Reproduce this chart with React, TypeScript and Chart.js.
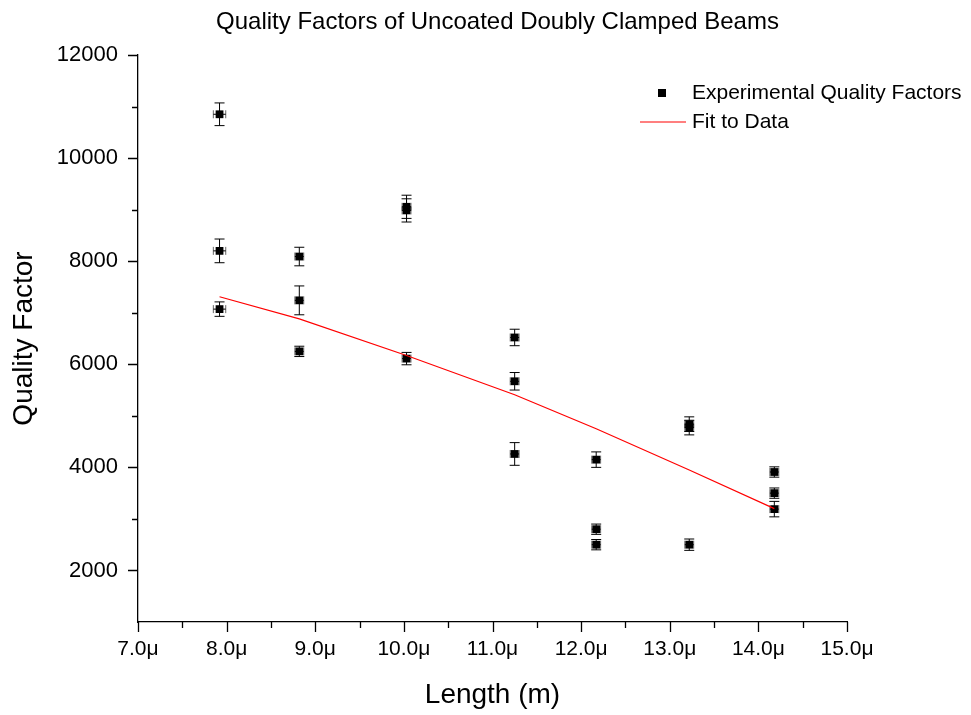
import React, { useEffect, useRef } from "react";
import { Chart, registerables } from "chart.js";

Chart.register(...registerables);

// ---- data (lengths in micrometres) ----
const lengthsUm = [
  7.92, 7.92, 7.92,
  8.82, 8.82, 8.82,
  10.03, 10.03, 10.03,
  11.25, 11.25, 11.25,
  12.17, 12.17, 12.17,
  13.22, 13.22, 13.22,
  14.18, 14.18, 14.18,
];
const qualityFactors = [
  10850, 8200, 7070,
  8090, 7240, 6250,
  9055, 8985, 6110,
  6520, 5670, 4260,
  4150, 2800, 2500,
  4838, 4772, 2500,
  3910, 3500, 3190,
];
const qualityErrors = [
  220, 230, 140,
  180, 280, 100,
  225, 225, 120,
  160, 170, 220,
  150, 100, 100,
  142, 142, 110,
  100, 100, 150,
];
const lengthErrorsUm = [
  0.07, 0.07, 0.07,
  0.05, 0.05, 0.05,
  0.05, 0.05, 0.05,
  0.05, 0.05, 0.05,
  0.05, 0.05, 0.05,
  0.05, 0.05, 0.05,
  0.05, 0.05, 0.05,
];
const fitLengthsUm = [7.92, 8.82, 10.03, 11.25, 12.17, 13.22, 14.18];
const fitQuality = [7310, 6880, 6170, 5410, 4750, 3950, 3200];

const xTickValues = [7, 8, 9, 10, 11, 12, 13, 14, 15];
const xMinorTickValues = [7.5, 8.5, 9.5, 10.5, 11.5, 12.5, 13.5, 14.5];
const yTickValues = [2000, 4000, 6000, 8000, 10000, 12000];
const yMinorTickValues = [3000, 5000, 7000, 9000, 11000];

const seriesLabel = "Experimental Quality Factors";
const fitLabel = "Fit to Data";
const chartTitle = "Quality Factors of Uncoated Doubly Clamped Beams";
const xTitle = "Length (m)";
const yTitle = "Quality Factor";

const FONT = "'Liberation Sans', Arial, sans-serif";

const errorBarPlugin = {
  id: "errorBars",
  beforeDatasetsDraw(chart: any) {
    const { ctx, scales } = chart;
    const xs = scales.x;
    const ys = scales.y;
    ctx.save();
    ctx.lineWidth = 1;
    const cap = 5;
    for (let i = 0; i < lengthsUm.length; i++) {
      const px = xs.getPixelForValue(lengthsUm[i]);
      const py = ys.getPixelForValue(qualityFactors[i]);
      const yTop = ys.getPixelForValue(qualityFactors[i] + qualityErrors[i]);
      const yBot = ys.getPixelForValue(qualityFactors[i] - qualityErrors[i]);
      const xL = xs.getPixelForValue(lengthsUm[i] - lengthErrorsUm[i]);
      const xR = xs.getPixelForValue(lengthsUm[i] + lengthErrorsUm[i]);
      ctx.strokeStyle = "#000";
      ctx.beginPath();
      ctx.moveTo(px, yTop);
      ctx.lineTo(px, yBot);
      ctx.moveTo(px - cap, yTop);
      ctx.lineTo(px + cap, yTop);
      ctx.moveTo(px - cap, yBot);
      ctx.lineTo(px + cap, yBot);
      ctx.moveTo(xL, py);
      ctx.lineTo(xR, py);
      ctx.stroke();
      ctx.beginPath();
      ctx.strokeStyle = "rgba(0,0,0,0.6)";
      ctx.moveTo(xL, py - 4);
      ctx.lineTo(xL, py + 4);
      ctx.moveTo(xR, py - 4);
      ctx.lineTo(xR, py + 4);
      ctx.stroke();
    }
    ctx.restore();
  },
};

const tickPlugin = {
  id: "axisTicks",
  afterDraw(chart: any) {
    const { ctx, scales, chartArea } = chart;
    const xs = scales.x;
    const ys = scales.y;
    ctx.save();
    ctx.strokeStyle = "#000";
    ctx.lineWidth = 1.3;
    ctx.beginPath();
    xTickValues.forEach((v) => {
      const p = Math.round(xs.getPixelForValue(v)) + 0.5;
      ctx.moveTo(p, chartArea.bottom);
      ctx.lineTo(p, chartArea.bottom + 10);
    });
    xMinorTickValues.forEach((v) => {
      const p = Math.round(xs.getPixelForValue(v)) + 0.5;
      ctx.moveTo(p, chartArea.bottom);
      ctx.lineTo(p, chartArea.bottom + 6);
    });
    yTickValues.forEach((v) => {
      const p = Math.round(ys.getPixelForValue(v)) + 0.5;
      ctx.moveTo(chartArea.left, p);
      ctx.lineTo(chartArea.left - 10, p);
    });
    yMinorTickValues.forEach((v) => {
      const p = Math.round(ys.getPixelForValue(v)) + 0.5;
      ctx.moveTo(chartArea.left, p);
      ctx.lineTo(chartArea.left - 6, p);
    });
    ctx.stroke();
    ctx.restore();
  },
};

const titleAndLegendPlugin = {
  id: "titleLegend",
  afterDraw(chart: any) {
    const { ctx, chartArea } = chart;
    const ds = chart.data.datasets;
    ctx.save();
    // title
    ctx.fillStyle = "#000";
    ctx.font = `24px ${FONT}`;
    ctx.textAlign = "center";
    ctx.textBaseline = "middle";
    ctx.fillText(chartTitle, chart.width / 2 + 12, chartArea.top - 33);
    // legend
    const textX = chartArea.right - 155;
    const y1 = chartArea.top + 38;
    const y2 = chartArea.top + 67;
    ctx.font = `21px ${FONT}`;
    ctx.textAlign = "left";
    ctx.fillRect(textX - 34, y1 - 4, 8, 8);
    ctx.fillText(ds[0].label, textX, y1);
    ctx.strokeStyle = "#ff0000";
    ctx.lineWidth = 1.2;
    ctx.beginPath();
    ctx.moveTo(textX - 52, y2);
    ctx.lineTo(textX - 6, y2);
    ctx.stroke();
    ctx.fillText(ds[1].label, textX, y2);
    ctx.restore();
  },
};

export default function App() {
  const canvasRef = useRef<HTMLCanvasElement | null>(null);

  useEffect(() => {
    if (!canvasRef.current) return;
    const chart = new Chart(canvasRef.current, {
      type: "scatter",
      data: {
        datasets: [
          {
            label: seriesLabel,
            data: lengthsUm.map((x, i) => ({ x, y: qualityFactors[i] })),
            pointStyle: "rect",
            pointRadius: 5.5,
            pointHoverRadius: 5.5,
            backgroundColor: "#000",
            borderColor: "#000",
            borderWidth: 0,
            showLine: false,
            order: 1,
          },
          {
            label: fitLabel,
            data: fitLengthsUm.map((x, i) => ({ x, y: fitQuality[i] })),
            showLine: true,
            borderColor: "#ff0000",
            backgroundColor: "#ff0000",
            borderWidth: 1.2,
            pointRadius: 0,
            pointHoverRadius: 0,
            tension: 0,
            order: 0,
          },
        ],
      },
      options: {
        animation: false,
        responsive: false,
        maintainAspectRatio: false,
        events: [],
        layout: { padding: { left: 0, right: 124, top: 55, bottom: 0 } },
        plugins: {
          legend: { display: false },
          tooltip: { enabled: false },
          title: { display: false },
        },
        scales: {
          x: {
            type: "linear",
            position: "bottom",
            min: 7,
            max: 15,
            afterBuildTicks: (s: any) => {
              s.ticks = xTickValues.map((v) => ({ value: v }));
            },
            afterFit: (s: any) => {
              s.height = 93;
            },
            grid: { display: false, drawTicks: false },
            border: { display: true, color: "#000", width: 1.3 },
            ticks: {
              color: "#000",
              font: { family: FONT, size: 21 },
              padding: 15,
              maxRotation: 0,
              autoSkip: false,
              callback: (v: any) => Number(v).toFixed(1) + "μ",
            },
            title: {
              display: true,
              text: xTitle,
              color: "#000",
              font: { family: FONT, size: 28 },
              padding: { top: 0, bottom: 3 },
            },
          },
          y: {
            type: "linear",
            position: "left",
            min: 1000,
            max: 12000,
            afterBuildTicks: (s: any) => {
              s.ticks = yTickValues.map((v) => ({ value: v }));
            },
            afterFit: (s: any) => {
              s.width = 138;
            },
            grid: { display: false, drawTicks: false },
            border: { display: true, color: "#000", width: 1.3 },
            ticks: {
              color: "#000",
              font: { family: FONT, size: 22 },
              padding: 20,
              autoSkip: false,
              callback: (v: any) => String(v),
            },
            title: {
              display: true,
              text: yTitle,
              color: "#000",
              font: { family: FONT, size: 28 },
              padding: { top: 7, bottom: 0 },
            },
          },
        },
      },
      plugins: [errorBarPlugin, tickPlugin, titleAndLegendPlugin],
    } as any);
    return () => chart.destroy();
  }, []);

  return (
    <div
      style={{
        position: "absolute",
        left: 0,
        top: 0,
        width: 971,
        height: 715,
        background: "#fff",
      }}
    >
      <canvas ref={canvasRef} width={971} height={715} />
    </div>
  );
}
